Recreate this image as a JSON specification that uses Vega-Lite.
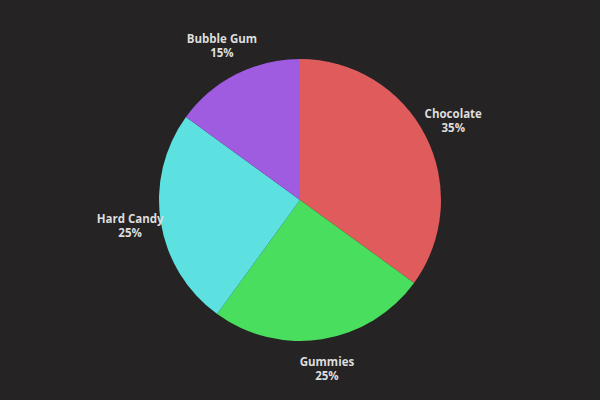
{
  "$schema": "https://vega.github.io/schema/vega-lite/v6.json",
  "autosize": {"type": "fit", "contains": "padding"},
  "width": 600,
  "height": 400,
  "padding": 0,
  "background": "#252324",
  "config": {"view": {"stroke": null}},
  "data": {"values": [
    {"category": "Chocolate", "share": 35, "idx": 1, "label": "Chocolate\n35%"},
    {"category": "Gummies", "share": 25, "idx": 2, "label": "Gummies\n25%"},
    {"category": "Hard Candy", "share": 25, "idx": 3, "label": "Hard Candy\n25%"},
    {"category": "Bubble Gum", "share": 15, "idx": 4, "label": "Bubble Gum\n15%"}
  ]},
  "encoding": {
    "theta": {"field": "share", "type": "quantitative", "stack": true},
    "order": {"field": "idx", "type": "quantitative"}
  },
  "layer": [
    {
      "mark": {"type": "arc", "outerRadius": 141},
      "encoding": {
        "color": {
          "field": "category", "type": "nominal",
          "scale": {"domain": ["Chocolate", "Gummies", "Hard Candy", "Bubble Gum"],
                    "range": ["#e05c5c", "#4ade5e", "#5ce0e0", "#9f5ce0"]},
          "legend": null
        }
      }
    },
    {
      "mark": {"type": "text", "radius": 172, "dy": -7, "lineBreak": "\n", "font": "Open Sans", "fontWeight": "bold", "fontSize": 11.5, "fill": "#dddddd", "align": "center", "baseline": "middle", "lineHeight": 14},
      "encoding": {"text": {"field": "label"}}
    }
  ]
}
